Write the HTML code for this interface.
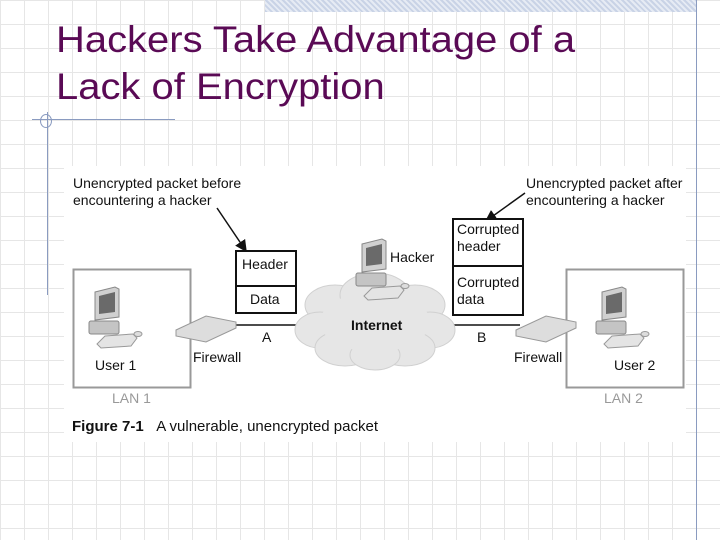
<!DOCTYPE html>
<html><head><style>
body{margin:0;width:720px;height:540px;overflow:hidden;position:relative;background-color:#fff;
background-image:linear-gradient(to right,#e6e6e6 1px,transparent 1px),linear-gradient(to bottom,#e6e6e6 1px,transparent 1px);
background-size:24px 24px;background-position:0 0;font-family:"Liberation Sans",sans-serif}
.t{position:absolute;left:56px;color:#5a0a55;font-size:37px;line-height:46px;transform:scaleX(1.08);transform-origin:0 0;white-space:nowrap}
.fig{position:absolute;left:64px;top:166px;width:622px;height:276px;background:#fff}
.s{position:absolute;font-size:14px;color:#111;line-height:17px}
.box{position:absolute;border:2px solid #111;background:#fff}
</style></head><body>
<div style="position:absolute;left:265px;top:0;width:432px;height:12px;background:repeating-linear-gradient(45deg,#c9d3e6 0 2px,#e6ebf4 2px 4px)"></div>
<div style="position:absolute;left:696px;top:0;width:1px;height:540px;background:#8a9bc0"></div>
<div class="t" style="top:17px">Hackers Take Advantage of a</div>
<div class="t" style="top:64px">Lack of Encryption</div>
<div style="position:absolute;left:32px;top:119px;width:143px;height:1px;background:#8a9bc0"></div>
<div style="position:absolute;left:47px;top:112px;width:1px;height:183px;background:#8a9bc0"></div>
<div style="position:absolute;left:40px;top:114px;width:10px;height:12px;border:1px solid #8a9bc0;border-radius:50%"></div>
<div class="fig"></div>
<div class="s" style="left:73px;top:175px">Unencrypted packet before<br>encountering a hacker</div>
<div class="s" style="left:526px;top:175px">Unencrypted packet after<br>encountering a hacker</div>
<svg style="position:absolute;left:0;top:0" width="720" height="540">
<defs><marker id="a" markerWidth="8" markerHeight="8" refX="7" refY="4" orient="auto"><path d="M0,0L8,4L0,8z" fill="#111"/></marker></defs>
<path d="M217,208 L246,251" stroke="#111" stroke-width="1.5" marker-end="url(#a)"/>
<path d="M525,193 L486,221" stroke="#111" stroke-width="1.5" marker-end="url(#a)"/>
<rect x="73.5" y="269.5" width="117" height="118" fill="none" stroke="#999" stroke-width="2"/>
<rect x="566.5" y="269.5" width="117" height="118" fill="none" stroke="#999" stroke-width="2"/>
<line x1="236" y1="325" x2="305" y2="325" stroke="#111" stroke-width="1.5"/>
<line x1="448" y1="325" x2="520" y2="325" stroke="#111" stroke-width="1.5"/>
<g fill="#e6e6e6" stroke="#d0d0d0">
<ellipse cx="335" cy="305" rx="30" ry="20"/><ellipse cx="375" cy="295" rx="35" ry="22"/><ellipse cx="415" cy="305" rx="30" ry="20"/>
<ellipse cx="320" cy="330" rx="25" ry="18"/><ellipse cx="430" cy="330" rx="25" ry="18"/>
<ellipse cx="345" cy="348" rx="30" ry="18"/><ellipse cx="405" cy="348" rx="30" ry="18"/><ellipse cx="375" cy="355" rx="25" ry="15"/>
<ellipse cx="375" cy="322" rx="55" ry="30" stroke="none"/>
</g>
<g id="pc"><path d="M362,244 l20,-5 l4,2 l0,28 l-24,3z" fill="#d0d0d0" stroke="#888"/><path d="M366,248 l16,-4 l0,20 l-16,2z" fill="#6a6a6a"/>
<rect x="356" y="273" width="30" height="13" rx="2" fill="#c4c4c4" stroke="#888"/><path d="M372,288 l28,-2 l4,4 l-6,8 l-30,2 l-4,-4z" fill="#e4e4e4" stroke="#999"/>
<ellipse cx="405" cy="286" rx="4" ry="2.5" fill="#ddd" stroke="#999"/></g>
<use href="#pc" x="-267" y="48"/><use href="#pc" x="240" y="48"/>
<path d="M176,330 l30,-14 l30,6 l0,6 l-30,14 l-30,-6z" fill="#ddd" stroke="#999"/>
<path d="M516,330 l30,-14 l30,6 l0,6 l-30,14 l-30,-6z" fill="#ddd" stroke="#999"/>
</svg>
<div class="box" style="left:235px;top:250px;width:58px;height:60px"></div>
<div style="position:absolute;left:237px;top:285px;width:58px;height:2px;background:#111"></div>
<div class="s" style="left:242px;top:256px">Header</div>
<div class="s" style="left:250px;top:291px">Data</div>
<div class="box" style="left:452px;top:218px;width:68px;height:94px"></div>
<div style="position:absolute;left:454px;top:265px;width:68px;height:2px;background:#111"></div>
<div class="s" style="left:457px;top:221px">Corrupted<br>header</div>
<div class="s" style="left:457px;top:274px">Corrupted<br>data</div>
<div class="s" style="left:390px;top:249px">Hacker</div>
<div class="s" style="left:351px;top:317px;font-weight:bold">Internet</div>
<div class="s" style="left:262px;top:329px">A</div>
<div class="s" style="left:477px;top:329px">B</div>
<div class="s" style="left:193px;top:349px">Firewall</div>
<div class="s" style="left:514px;top:349px">Firewall</div>
<div class="s" style="left:95px;top:357px">User 1</div>
<div class="s" style="left:614px;top:357px">User 2</div>
<div class="s" style="left:112px;top:390px;color:#999">LAN 1</div>
<div class="s" style="left:604px;top:390px;color:#999">LAN 2</div>
<div class="s" style="left:72px;top:418px;font-size:15px"><b>Figure 7-1</b>&nbsp;&nbsp;&nbsp;A vulnerable, unencrypted packet</div>
</body></html>
